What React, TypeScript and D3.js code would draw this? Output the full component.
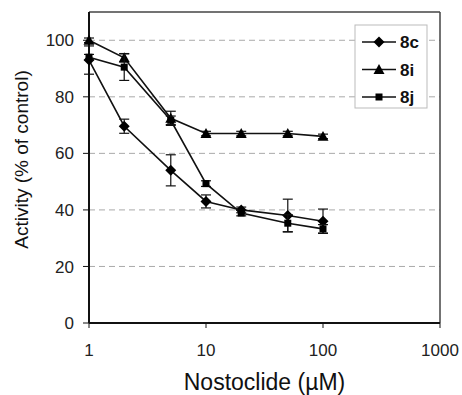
import * as d3 from 'd3';

const doses = [1, 2, 5, 10, 20, 50, 100];
const seriesNames = ['8c', '8i', '8j'];
const act8c = [93, 69.6, 54, 43, 40, 38, 36];
const err8c = [5, 2.5, 5.5, 2.3, 1, 5.8, 4.3];
const act8i = [100, 93.8, 72.4, 67, 67, 67, 66];
const err8i = [0.8, 1.5, 2.5, 0.8, 0.8, 0.8, 0.8];
const act8j = [94, 90.5, 71.7, 49.3, 38.9, 35.3, 33.3];
const err8j = [1, 4.7, 1.5, 1, 1, 3, 1.5];
const yTicks = [0, 20, 40, 60, 80, 100];
const gridTicks = [20, 40, 60, 80, 100];
const xTicks = [1, 10, 100, 1000];

const W = 462;
const H = 395;
const m = { left: 89, right: 22, top: 12, bottom: 72 };
const FONT = 'Arial, "Liberation Sans", sans-serif';

const marker = (kind: string, x: number, y: number, key?: string) => {
  if (kind === 'diamond') {
    const s = 5.5;
    return <path key={key} d={`M${x},${y - s}L${x + s},${y}L${x},${y + s}L${x - s},${y}Z`} fill="#000" />;
  }
  if (kind === 'triangle') {
    const s = 5.5;
    return <path key={key} d={`M${x},${y - s}L${x + s},${y + s * 0.8}L${x - s},${y + s * 0.8}Z`} fill="#000" />;
  }
  return <rect key={key} x={x - 3.5} y={y - 3.5} width={7} height={7} fill="#000" />;
};

export default function App() {
  const x = d3.scaleLog().domain([1, 1000]).range([m.left, W - m.right]);
  const y = d3.scaleLinear().domain([0, 110]).range([H - m.bottom, m.top]);
  const series = [
    { name: seriesNames[0], vals: act8c, errs: err8c, kind: 'diamond' },
    { name: seriesNames[1], vals: act8i, errs: err8i, kind: 'triangle' },
    { name: seriesNames[2], vals: act8j, errs: err8j, kind: 'square' },
  ];
  const line = d3
    .line<number>()
    .x((_, i) => x(doses[i]))
    .y((v) => y(v));

  const x0 = x(1);
  const x1 = x(1000);
  const y0 = y(0);
  const yTop = y(110);

  return (
    <svg
      width={W}
      height={H}
      style={{ position: 'absolute', left: 0, top: 0, background: '#fff' }}
      fontFamily={FONT}
    >
      <rect width={W} height={H} fill="#fff" />
      {gridTicks.map((t) => (
        <line key={t} x1={x0} x2={x1} y1={y(t)} y2={y(t)} stroke="#aaa" strokeWidth={1} strokeDasharray="6,4" />
      ))}
      {/* frame */}
      <line x1={x0} x2={x1} y1={yTop} y2={yTop} stroke="#444" strokeWidth={1.5} />
      <line x1={x1} x2={x1} y1={yTop} y2={y0} stroke="#444" strokeWidth={1.5} />
      {/* axes */}
      <line x1={x0} x2={x0} y1={yTop} y2={y0} stroke="#111" strokeWidth={2} />
      <line x1={x0} x2={x1} y1={y0} y2={y0} stroke="#111" strokeWidth={2} />
      {yTicks.map((t) => (
        <g key={t}>
          <line x1={x0 - 6} x2={x0} y1={y(t)} y2={y(t)} stroke="#111" strokeWidth={1} />
          <text x={x0 - 15} y={y(t)} dy="0.36em" textAnchor="end" fontSize={17} fill="#222">
            {t}
          </text>
        </g>
      ))}
      {xTicks.map((t) => (
        <g key={t}>
          <line x1={x(t)} x2={x(t)} y1={y0} y2={y0 + 5} stroke="#111" strokeWidth={1} />
          <text x={x(t)} y={y0 + 27} dy="0.36em" textAnchor="middle" fontSize={17} fill="#222">
            {t}
          </text>
        </g>
      ))}
      <text x={(x0 + x1) / 2} y={382} dy="0.36em" textAnchor="middle" fontSize={23} fill="#111">
        Nostoclide (µM)
      </text>
      <text
        transform={`translate(21,${(yTop + y0) / 2 - 8}) rotate(-90)`}
        dy="0.36em"
        textAnchor="middle"
        fontSize={19}
        fill="#111"
      >
        Activity (% of control)
      </text>

      {series.map((s) => (
        <g key={s.name}>
          {s.vals.map((v, i) => {
            const cx = x(doses[i]);
            return (
              <g key={i} stroke="#111" strokeWidth={1.2}>
                <line x1={cx} x2={cx} y1={y(v - s.errs[i])} y2={y(v + s.errs[i])} />
                <line x1={cx - 5} x2={cx + 5} y1={y(v - s.errs[i])} y2={y(v - s.errs[i])} />
                <line x1={cx - 5} x2={cx + 5} y1={y(v + s.errs[i])} y2={y(v + s.errs[i])} />
              </g>
            );
          })}
          <path d={line(s.vals) || ''} fill="none" stroke="#111" strokeWidth={1.6} />
          {s.vals.map((v, i) => marker(s.kind, x(doses[i]), y(v), `${s.name}-${i}`))}
        </g>
      ))}

      {/* legend */}
      <rect x={355} y={25} width={72} height={83} fill="#fff" stroke="#bbb" strokeWidth={1} />
      {series.map((s, i) => {
        const ly = 42 + i * 27.5;
        return (
          <g key={s.name}>
            <line x1={362} x2={396} y1={ly} y2={ly} stroke="#111" strokeWidth={1.6} />
            {marker(s.kind, 379, ly)}
            <text x={400} y={ly} dy="0.36em" fontSize={17} fontWeight="bold" fill="#111">
              {s.name}
            </text>
          </g>
        );
      })}
    </svg>
  );
}
